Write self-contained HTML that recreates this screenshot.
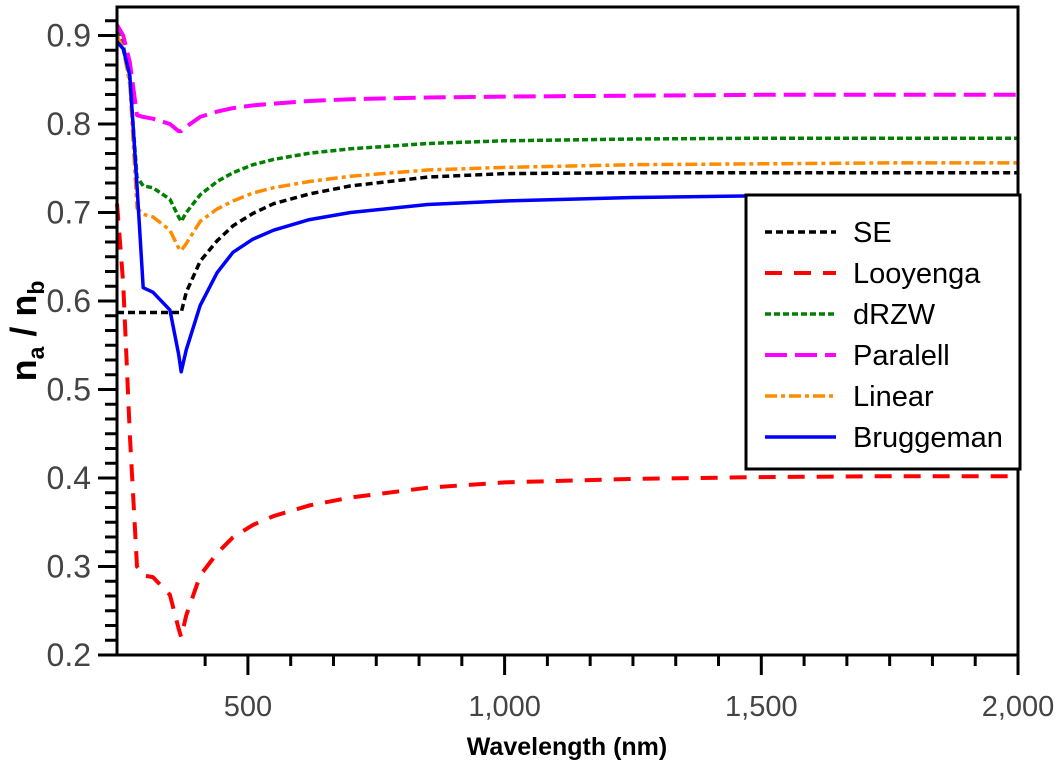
<!DOCTYPE html>
<html><head><meta charset="utf-8"><style>
body{margin:0;background:#fff}
svg{display:block;font-family:"Liberation Sans",sans-serif}
</style></head><body>
<svg id="chart" width="1059" height="771" viewBox="0 0 1059 771">
<g id="plot"></g>
</svg>
<script>
const wavelengths=[245,257,270,284,296,315,348,365,370,380,407,440,471,510,550,620,700,850,1000,1250,1500,1750,2000];
const seSeries=[0.587,0.587,0.587,0.587,0.587,0.587,0.587,0.587,0.587,0.61,0.645,0.668,0.685,0.699,0.71,0.721,0.73,0.74,0.744,0.745,0.745,0.745,0.745];
const looyengaSeries=[0.71,0.62,0.45,0.30,0.29,0.288,0.268,0.23,0.22,0.245,0.29,0.315,0.333,0.347,0.357,0.369,0.378,0.389,0.395,0.399,0.401,0.402,0.402];
const drzwSeries=[0.905,0.89,0.85,0.74,0.73,0.728,0.715,0.695,0.69,0.70,0.72,0.735,0.745,0.754,0.76,0.767,0.772,0.778,0.781,0.783,0.784,0.784,0.784];
const paralellSeries=[0.912,0.90,0.87,0.81,0.808,0.806,0.80,0.792,0.792,0.797,0.808,0.814,0.818,0.821,0.823,0.826,0.828,0.83,0.831,0.832,0.833,0.833,0.833];
const linearSeries=[0.90,0.885,0.845,0.705,0.698,0.695,0.68,0.66,0.657,0.665,0.69,0.704,0.713,0.722,0.728,0.735,0.741,0.748,0.751,0.754,0.755,0.756,0.756];
const bruggemanSeries=[0.893,0.885,0.855,0.73,0.615,0.61,0.59,0.54,0.52,0.545,0.595,0.632,0.655,0.670,0.68,0.692,0.70,0.709,0.713,0.717,0.719,0.719,0.719];
const xTicks=[500,1000,1500,2000];
const xTickLabels=["500","1,000","1,500","2,000"];
const yTicks=[0.2,0.3,0.4,0.5,0.6,0.7,0.8,0.9];
const yTickLabels=["0.2","0.3","0.4","0.5","0.6","0.7","0.8","0.9"];
const legendNames=["SE","Looyenga","dRZW","Paralell","Linear","Bruggeman"];

const L=117,R=1018,T=7,B=655;
const xMin=245,xMax=2000,yMin=0.2,yMax=0.2+(B-T)/885;
const xs=v=>L+(v-xMin)/(xMax-xMin)*(R-L);
const ys=v=>B-(v-yMin)/(yMax-yMin)*(B-T);
const NS="http://www.w3.org/2000/svg";
const svg=document.getElementById('chart');
function mk(tag,attrs,style,parent){const e=document.createElementNS(NS,tag);for(const k in attrs)e.setAttribute(k,attrs[k]);if(style)e.setAttribute('style',style);(parent||svg).appendChild(e);return e;}

const styles=[
 {c:"#000",w:3.5,d:"7,4"},
 {c:"#ff0000",w:4,d:"17,12"},
 {c:"#008000",w:3.5,d:"6,3"},
 {c:"#ff00ff",w:4,d:"22,8"},
 {c:"#ff8c00",w:3.5,d:"12,4,4,4"},
 {c:"#0000ff",w:3.5,d:"none"}
];
const allSeries=[seSeries,looyengaSeries,drzwSeries,paralellSeries,linearSeries,bruggemanSeries];
const seriesNames=["se-line","looyenga-line","drzw-line","paralell-line","linear-line","bruggeman-line"];

allSeries.forEach((s,i)=>{
 const d=s.map((v,j)=>(j?'L':'M')+xs(wavelengths[j]).toFixed(1)+','+ys(v).toFixed(1)).join(' ');
 const p=mk('path',{d:d},`fill:none;stroke:${styles[i].c};stroke-width:${styles[i].w}px;stroke-dasharray:${styles[i].d};stroke-linejoin:round`);
 
 
});

const fr=mk('rect',{x:L,y:T,width:R-L,height:B-T},'fill:none;stroke:#000;stroke-width:3px');



for(let k=0;k<=50;k++){
 const v=0.2+k*0.1/6; if(v>yMax)break;
 const y=ys(v); const major=k%6===0;
 const t=mk('line',{x1:major?98:105,x2:L,y1:y,y2:y},'stroke:#000;stroke-width:3px');
 
 
}
yTicks.forEach((v,i)=>{
 const t=mk('text',{x:91,y:ys(v)+11,'text-anchor':'end'},'font-size:32px;fill:#444');
 t.textContent=yTickLabels[i];
 
 
});
for(let k=-1;k<=18;k++){
 const v=500+k*500/6; if(v<xMin||v>xMax)continue;
 const x=xs(v); const major=k%6===0;
 const t=mk('line',{x1:x,x2:x,y1:B,y2:major?675:666},'stroke:#000;stroke-width:3px');
 
 
}
xTicks.forEach((v,i)=>{
 const t=mk('text',{x:Math.min(xs(v),1022),y:716,'text-anchor':'middle'},'font-size:29px;fill:#444');
 t.textContent=xTickLabels[i];
 
 
});
const xt=mk('text',{x:567,y:755,'text-anchor':'middle'},'font-size:25px;font-weight:bold');
xt.textContent='Wavelength (nm)';


const yt=mk('text',{transform:'translate(36,331) rotate(-90)','text-anchor':'middle'},'font-size:36px;font-weight:bold');
yt.innerHTML='n<tspan style="font-size:23px" dy="8">a</tspan><tspan dy="-8"> / n</tspan><tspan style="font-size:23px" dy="8">b</tspan>';



const lg=mk('g',{});


mk('rect',{x:746,y:195,width:274,height:274},'fill:#fff;stroke:#000;stroke-width:3px',lg);
legendNames.forEach((n,i)=>{
 const y=232+i*41;
 const g=mk('g',{},null,lg);
 
 
 mk('line',{x1:765,x2:836,y1:y,y2:y},`stroke:${styles[i].c};stroke-width:${styles[i].w}px;stroke-dasharray:${styles[i].d}`,g);
 const t=mk('text',{x:853,y:y+10},'font-size:29px',g);
 t.textContent=n;
});
</script>
</body></html>
